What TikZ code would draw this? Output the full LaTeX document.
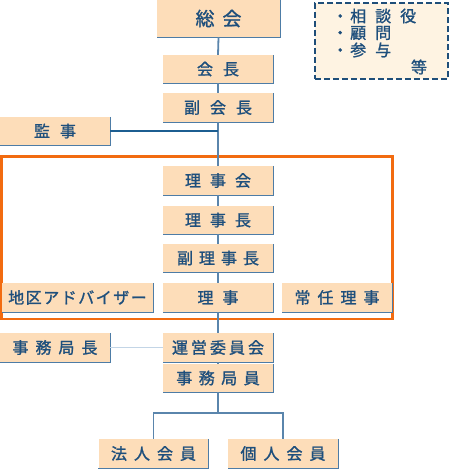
\documentclass[tikz,border=0pt]{standalone}
\usepackage{fontspec}
\newfontfamily\jp[FakeBold=1.3]{Noto Sans CJK JP}
\definecolor{peach}{HTML}{FDDDB9}
\definecolor{txt}{HTML}{1E4F7C}
\definecolor{edge}{HTML}{4D7CA6}
\definecolor{trunk}{HTML}{5A85AC}
\definecolor{darkln}{HTML}{1C5E91}
\definecolor{lightln}{HTML}{C3D5E6}
\definecolor{orng}{HTML}{F26B10}
\definecolor{cream}{HTML}{FEF3E2}
\definecolor{dashc}{HTML}{1F4E79}
\begin{document}
\begin{tikzpicture}[x=1pt,y=-1pt,
  box/.style={fill=peach, inner sep=0pt, minimum width=110pt, minimum height=29pt,
    text=txt, font=\jp\fontsize{16}{16}\selectfont},
  shadowln/.style={draw=edge, line width=1.3pt},
  conn/.style={draw=trunk, line width=1.8pt},
]
\useasboundingbox (0,0) rectangle (450,470);

% orange frame
\draw[orng, line width=2.2pt] (1.5,156.5) rectangle (392.5,319);

% dashed note box
\node[draw=dashc, fill=cream, line width=1.7pt, dash pattern=on 6pt off 3pt,
  minimum width=133pt, minimum height=76pt, inner sep=0pt] (note) at (381.5,41) {};
\node[anchor=west, inner sep=0pt, text=txt, font=\jp\fontsize{16}{16}\selectfont] (n1) at (332,16) {・\kern2pt 相\kern9pt 談\kern9pt 役};
\node[anchor=west, inner sep=0pt, text=txt, font=\jp\fontsize{16}{16}\selectfont] (n2) at (332,33) {・\kern2pt 顧\kern9pt 問};
\node[anchor=west, inner sep=0pt, text=txt, font=\jp\fontsize{16}{16}\selectfont] (n3) at (332,50) {・\kern2pt 参\kern9pt 与};
\node[inner sep=0pt, text=txt, font=\jp\fontsize{16}{16}\selectfont] (n4) at (419,67) {等};

% boxes
\node[box, minimum width=123pt, minimum height=37pt, font=\jp\fontsize{19}{19}\selectfont] (soukai) at (218.5,18.5) {総\kern8pt 会};
\node[box, minimum height=28pt] (kaicho) at (218,69) {会\kern10pt 長};
\node[box] (fuku) at (218,107.5) {副\kern10pt 会\kern10pt 長};
\node[box, minimum height=28pt] (kanji) at (55,131) {監\kern10pt 事};
\node[box] (rijikai) at (218,180.5) {理\kern9pt 事\kern9pt 会};
\node[box, minimum height=28pt] (rijicho) at (218,220) {理\kern9pt 事\kern9pt 長};
\node[box, minimum height=28pt] (fukuriji) at (218,258) {副\kern6pt 理\kern6pt 事\kern6pt 長};
\node[box] (riji) at (218,297.5) {理\kern9pt 事};
\node[box, minimum width=151pt] (chiku) at (77.5,297.5) {地\kern1.5pt 区\kern1.5pt ア\kern1.5pt ド\kern1.5pt バ\kern1.5pt イ\kern1.5pt ザ\kern1.5pt ー};
\node[box] (jonin) at (337,297.5) {常\kern7pt 任\kern7pt 理\kern7pt 事};
\node[box] (unei) at (218,347.5) {運\kern3pt 営\kern3pt 委\kern3pt 員\kern3pt 会};
\node[box] (kyokucho) at (55,347.5) {事\kern7pt 務\kern7pt 局\kern7pt 長};
\node[box, minimum height=28pt] (kyokuin) at (218,378) {事\kern6.5pt 務\kern6.5pt 局\kern6.5pt 員};
\node[box] (hojin) at (153.5,453.5) {法\kern7pt 人\kern7pt 会\kern7pt 員};
\node[box] (kojin) at (283,453.5) {個\kern7pt 人\kern7pt 会\kern7pt 員};

% shadow edges
\foreach \n in {soukai,kaicho,fuku,kanji,rijikai,rijicho,fukuriji,riji,chiku,jonin,unei,kyokucho,kyokuin,hojin,kojin}
  \draw[shadowln] (\n.north east) -- (\n.south east) -- (\n.south west);

% connectors
\draw[conn] (soukai.south) -- (kaicho.north);
\draw[conn] (kaicho.south) -- (fuku.north);
\draw[conn] (fuku.south) -- (rijikai.north);
\draw[conn] (rijikai.south) -- (rijicho.north);
\draw[conn] (rijicho.south) -- (fukuriji.north);
\draw[conn] (fukuriji.south) -- (riji.north);
\draw[conn] (riji.south) -- (unei.north);
\draw[conn] (unei.south) -- (kyokuin.north);
\coordinate (br) at (218,413);
\draw[conn] (kyokuin.south) -- (br);
\draw[conn] (hojin.north) |- (br) -| (kojin.north);
\draw[darkln, line width=1.2pt] (kanji.east) -- (kanji.east -| fuku.south);
\draw[lightln, line width=1.5pt] (kyokucho.east) -- (unei.west);
\end{tikzpicture}
\end{document}
